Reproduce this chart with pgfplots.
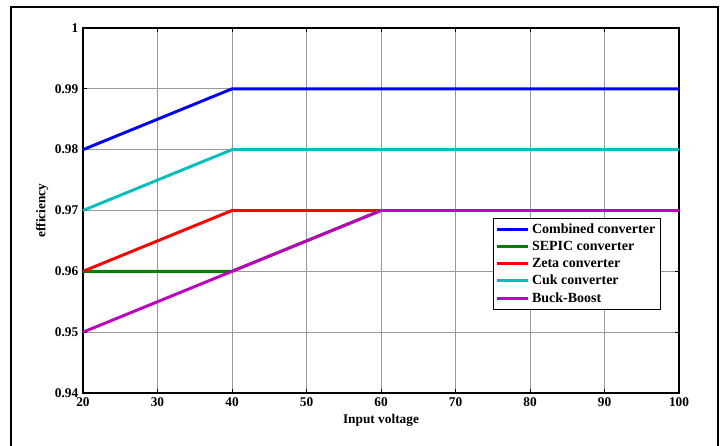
\documentclass[border=0pt]{standalone}
\usepackage{pgfplots}
\pgfplotsset{compat=1.18}
\usepackage{fontspec}
\setmainfont{Liberation Serif}
\definecolor{mblue}{RGB}{0,0,255}
\definecolor{mgreen}{RGB}{0,128,0}
\definecolor{mred}{RGB}{255,0,0}
\definecolor{mcyan}{RGB}{0,191,191}
\definecolor{mmag}{RGB}{191,0,191}
\begin{document}
\begin{tikzpicture}
\begin{axis}[
  scale only axis,
  width=447pt, height=273.75pt,
  xmin=20, xmax=100, ymin=0.94, ymax=1,
  xtick={20,30,...,100},
  ytick={0.94,0.95,0.96,0.97,0.98,0.99,1},
  yticklabels={0.94,0.95,0.96,0.97,0.98,0.99,1},
  grid=major,
  major grid style={gray!80, line width=0.5pt},
  tick align=inside,
  major tick length=3pt,
  tick style={black, line width=0.6pt},
  axis line style={black, line width=1.3pt},
  ticklabel style={font=\fontsize{10}{12}\selectfont\bfseries},
  xticklabel style={yshift=0pt},
  yticklabel style={xshift=0pt},
  /pgf/number format/assume math mode=true,
  xlabel={Input voltage},
  ylabel={efficiency},
  label style={font=\fontsize{10}{12}\selectfont\bfseries},
  xlabel style={at={([yshift=-20.25pt]rel axis cs:0.5,0)}, anchor=center},
  ylabel style={at={([xshift=-30.75pt]rel axis cs:0,0.5)}, anchor=center},
  legend style={at={(rel axis cs:0.970,0.479)}, anchor=north east,
    font=\fontsize{10.5}{12}\selectfont\bfseries, draw=black, line width=0.8pt,
    inner xsep=2pt, inner ysep=1.5pt, row sep=0.4pt, cells={anchor=west}},
  legend image code/.code={\draw[#1, line width=2.2pt] (0pt,0pt) -- (23pt,0pt);},
  clip=false,
]
\coordinate (sw) at (rel axis cs:0,0);
\coordinate (ne) at (rel axis cs:1,1);
\addplot[mblue, line width=2.2pt] coordinates {(20,0.98) (40,0.99) (100,0.99)};
\addlegendentry{Combined converter}
\addplot[mgreen, line width=2.2pt] coordinates {(20,0.96) (40,0.96) (60,0.97) (100,0.97)};
\addlegendentry{SEPIC converter}
\addplot[mred, line width=2.2pt] coordinates {(20,0.96) (40,0.97) (100,0.97)};
\addlegendentry{Zeta converter}
\addplot[mcyan, line width=2.2pt] coordinates {(20,0.97) (40,0.98) (100,0.98)};
\addlegendentry{Cuk converter}
\addplot[mmag, line width=2.2pt] coordinates {(20,0.95) (40,0.96) (60,0.97) (100,0.97)};
\addlegendentry{Buck-Boost}
\end{axis}
\draw[black, line width=1.5pt] ([shift={(-54pt,-45pt)}]sw) -- ([shift={(-54pt,15.75pt)}]sw|-ne) -- ([shift={(29.25pt,15.75pt)}]ne) -- ([shift={(29.25pt,-45pt)}]ne|-sw);
\pgfresetboundingbox
\useasboundingbox ([shift={(-62.25pt,-39.75pt)}]sw) rectangle ([shift={(35.25pt,21pt)}]ne);
\end{tikzpicture}
\end{document}
